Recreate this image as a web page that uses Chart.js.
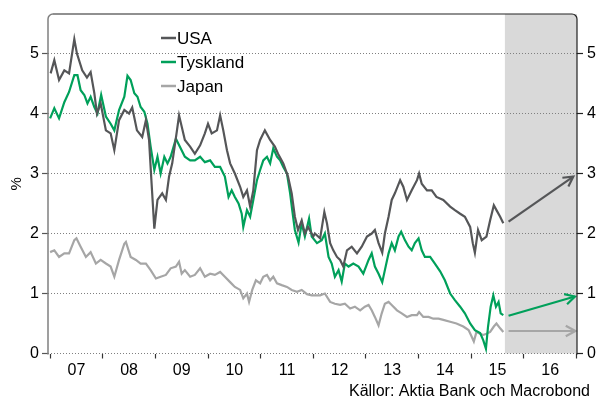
<!DOCTYPE html>
<html>
<head>
<meta charset="utf-8">
<script src="https://cdn.jsdelivr.net/npm/chart.js@4"></script>
<style>
html, body { margin: 0; padding: 0; background: #fff; }
</style>
</head>
<body>
<canvas id="rates" width="597" height="403"></canvas>
<script>
// 10-year government bond yields, %, decimal years
const usaDates = [2007.01, 2007.08, 2007.17, 2007.27, 2007.36, 2007.46, 2007.51, 2007.61, 2007.70, 2007.77, 2007.84, 2007.89, 2007.96,
  2008.06, 2008.15, 2008.22, 2008.31, 2008.41, 2008.50, 2008.56, 2008.65, 2008.75, 2008.82, 2008.88, 2008.92, 2008.98,
  2009.04, 2009.13, 2009.20, 2009.26, 2009.32, 2009.41, 2009.45, 2009.56, 2009.66, 2009.75, 2009.85, 2009.94,
  2010.00, 2010.07, 2010.17, 2010.23, 2010.29, 2010.36, 2010.42, 2010.51, 2010.61, 2010.67, 2010.74, 2010.80, 2010.86, 2010.93, 2010.99,
  2011.08, 2011.18, 2011.27, 2011.33, 2011.43, 2011.52, 2011.59, 2011.65, 2011.71, 2011.78, 2011.84, 2011.90,
  2012.00, 2012.03, 2012.13, 2012.21, 2012.26, 2012.32, 2012.38, 2012.45, 2012.51, 2012.57, 2012.64, 2012.73, 2012.83, 2012.92,
  2013.02, 2013.11, 2013.17, 2013.24, 2013.31, 2013.36, 2013.43, 2013.49, 2013.55, 2013.65, 2013.71, 2013.78, 2013.87, 2013.97,
  2014.01, 2014.06, 2014.16, 2014.25, 2014.34, 2014.47, 2014.60, 2014.69, 2014.79, 2014.88, 2014.98,
  2015.03, 2015.07, 2015.13, 2015.20, 2015.29, 2015.36, 2015.43, 2015.48, 2015.55, 2015.61];
const usaYield = [4.67, 4.89, 4.56, 4.72, 4.67, 5.24, 5.0, 4.72, 4.6, 4.69, 4.34, 4.0, 4.17,
  3.72, 3.67, 3.39, 3.89, 4.06, 4.0, 4.1, 3.72, 3.61, 3.89, 3.56, 2.95, 2.08,
  2.56, 2.67, 2.56, 2.95, 3.17, 3.72, 3.97, 3.56, 3.45, 3.33, 3.47, 3.67,
  3.83, 3.67, 3.72, 3.97, 3.72, 3.39, 3.17, 3.0, 2.78, 2.61, 2.72, 2.45, 2.72, 3.39, 3.56,
  3.72, 3.56, 3.45, 3.33, 3.17, 2.95, 2.67, 2.28, 2.06, 2.22, 2.0, 2.11,
  1.95, 2.0, 1.92, 2.36, 2.17, 1.84, 1.72, 1.61, 1.56, 1.45, 1.72, 1.78, 1.67, 1.78,
  1.95, 2.0, 2.06, 1.84, 1.68, 2.0, 2.28, 2.56, 2.67, 2.89, 2.78, 2.56, 2.72, 2.89,
  3.0, 2.83, 2.72, 2.72, 2.61, 2.56, 2.45, 2.39, 2.33, 2.28, 2.11,
  1.84, 1.68, 2.06, 1.89, 1.95, 2.22, 2.47, 2.39, 2.28, 2.17];

const deDates = [2007.00, 2007.08, 2007.17, 2007.27, 2007.36, 2007.46, 2007.52, 2007.58, 2007.65, 2007.71, 2007.77, 2007.84, 2007.90, 2007.97,
  2008.06, 2008.15, 2008.22, 2008.31, 2008.41, 2008.47, 2008.53, 2008.60, 2008.66, 2008.72, 2008.79, 2008.85, 2008.91, 2008.98,
  2009.04, 2009.10, 2009.17, 2009.23, 2009.29, 2009.39, 2009.48, 2009.56, 2009.66, 2009.75, 2009.85, 2009.94,
  2010.04, 2010.13, 2010.23, 2010.32, 2010.39, 2010.45, 2010.51, 2010.58, 2010.64, 2010.67, 2010.74, 2010.80, 2010.86, 2010.93, 2010.99,
  2011.05, 2011.12, 2011.18, 2011.24, 2011.31, 2011.37, 2011.43, 2011.50, 2011.56, 2011.60, 2011.65, 2011.72, 2011.78, 2011.84, 2011.92, 2011.97,
  2012.07, 2012.16, 2012.22, 2012.29, 2012.35, 2012.41, 2012.48, 2012.54, 2012.60, 2012.67, 2012.76, 2012.86, 2012.95,
  2013.05, 2013.11, 2013.17, 2013.24, 2013.31, 2013.36, 2013.43, 2013.49, 2013.55, 2013.62, 2013.67, 2013.74, 2013.81, 2013.87, 2013.93,
  2014.00, 2014.06, 2014.12, 2014.22, 2014.31, 2014.41, 2014.50, 2014.60, 2014.69, 2014.79, 2014.88, 2014.98,
  2015.07, 2015.17, 2015.23, 2015.28, 2015.32, 2015.37, 2015.42, 2015.47, 2015.52, 2015.56, 2015.61];
const deYield = [3.92, 4.09, 3.92, 4.19, 4.36, 4.64, 4.64, 4.39, 4.31, 4.17, 4.28, 4.11, 4.0, 4.31,
  3.95, 3.83, 3.72, 4.06, 4.28, 4.63, 4.56, 4.34, 4.28, 4.11, 4.03, 3.83, 3.45, 3.06,
  3.28, 3.0, 3.28, 3.17, 3.28, 3.58, 3.42, 3.28, 3.22, 3.22, 3.28, 3.19,
  3.22, 3.11, 3.11, 2.95, 2.61, 2.72, 2.61, 2.5, 2.33, 2.11, 2.39, 2.28, 2.56, 2.89, 3.06,
  3.22, 3.28, 3.17, 3.42, 3.28, 3.22, 3.11, 3.0, 2.67, 2.39, 2.06, 1.85, 2.17, 1.95, 2.25, 1.95,
  1.84, 1.89, 2.0, 1.61, 1.5, 1.28, 1.39, 1.2, 1.5, 1.45, 1.5, 1.45, 1.33,
  1.56, 1.67, 1.45, 1.33, 1.19, 1.39, 1.67, 1.84, 1.72, 1.95, 2.03, 1.89, 1.78, 1.72, 1.84,
  1.92, 1.72, 1.61, 1.61, 1.5, 1.37, 1.22, 1.0, 0.89, 0.78, 0.67, 0.5,
  0.39, 0.34, 0.22, 0.08, 0.45, 0.78, 0.97, 0.78, 0.86, 0.67, 0.64];

const jpDates = [2007.00, 2007.08, 2007.17, 2007.27, 2007.36, 2007.46, 2007.50, 2007.58, 2007.68, 2007.77, 2007.87, 2007.96,
  2008.06, 2008.15, 2008.22, 2008.31, 2008.41, 2008.44, 2008.53, 2008.63, 2008.72, 2008.82, 2008.91,
  2009.01, 2009.10, 2009.20, 2009.29, 2009.39, 2009.45, 2009.50, 2009.56, 2009.66, 2009.75, 2009.85, 2009.94,
  2010.04, 2010.13, 2010.23, 2010.32, 2010.42, 2010.51, 2010.61, 2010.67, 2010.74, 2010.78, 2010.84, 2010.91, 2010.99,
  2011.05, 2011.12, 2011.18, 2011.24, 2011.31, 2011.40, 2011.50, 2011.59, 2011.69, 2011.78, 2011.88, 2011.97,
  2012.03, 2012.13, 2012.22, 2012.32, 2012.41, 2012.51, 2012.60, 2012.70, 2012.79, 2012.89, 2012.98,
  2013.05, 2013.11, 2013.17, 2013.24, 2013.30, 2013.36, 2013.43, 2013.49, 2013.59, 2013.68, 2013.78, 2013.87, 2013.97,
  2014.01, 2014.09, 2014.19, 2014.28, 2014.38, 2014.47, 2014.60, 2014.72, 2014.85, 2014.95,
  2015.01, 2015.05, 2015.10, 2015.17, 2015.23, 2015.29, 2015.36, 2015.43, 2015.48, 2015.55, 2015.61];
const jpYield = [1.69, 1.72, 1.61, 1.67, 1.67, 1.89, 1.92, 1.78, 1.61, 1.69, 1.5, 1.56,
  1.5, 1.45, 1.28, 1.56, 1.83, 1.86, 1.61, 1.56, 1.5, 1.5, 1.39,
  1.25, 1.28, 1.31, 1.42, 1.45, 1.53, 1.33, 1.39, 1.28, 1.31, 1.42, 1.28,
  1.33, 1.31, 1.36, 1.28, 1.19, 1.11, 1.06, 0.92, 1.0, 0.86, 1.06, 1.22, 1.17,
  1.28, 1.31, 1.22, 1.28, 1.17, 1.14, 1.11, 1.06, 1.03, 1.06, 0.99, 0.97,
  0.97, 0.97, 1.0, 0.86, 0.83, 0.81, 0.83, 0.75, 0.78, 0.72, 0.78,
  0.81, 0.72, 0.61, 0.47, 0.67, 0.83, 0.86, 0.81, 0.72, 0.67, 0.61, 0.64, 0.64,
  0.69, 0.61, 0.61, 0.58, 0.58, 0.56, 0.53, 0.5, 0.45, 0.39,
  0.28, 0.2, 0.36, 0.33, 0.31, 0.33, 0.36, 0.45, 0.5, 0.42, 0.36];

// forecasts (arrows) to end of 2016
const usaFcDates = [2015.71, 2016.94];
const usaFc = [2.2, 2.95];
const deFcDates = [2015.71, 2016.97];
const deFc = [0.63, 0.95];
const jpFcDates = [2015.71, 2016.98];
const jpFc = [0.375, 0.375];

const forecastStart = 2015.64;
const yearTicks = [2007, 2008, 2009, 2010, 2011, 2012, 2013, 2014, 2015, 2016, 2017];
const yTicks = [0, 1, 2, 3, 4, 5];
const sourceText = 'Källor: Aktia Bank och Macrobond';

const FONT = '"Liberation Sans", Arial, sans-serif';
const usaColor = '#555658';
const deColor = '#00a05a';
const jpColor = '#a6a6a6';

function pts(xs, ys) {
    return xs.map((x, i) => ({ x: x, y: ys[i] }));
}

const shadeAndFrame = {
    id: 'shadeAndFrame',
    beforeDraw(chart) {
        const { ctx, chartArea: a } = chart;
        const sx = chart.scales.x.getPixelForValue(forecastStart);
        ctx.save();
        ctx.fillStyle = '#d9d9d9';
        ctx.fillRect(sx, a.top, a.right - sx, a.bottom - a.top);
        ctx.restore();
    },
    afterDraw(chart) {
        const { ctx, chartArea: a } = chart;
        const r = 5;
        ctx.save();
        // left axis
        ctx.strokeStyle = '#808080';
        ctx.lineWidth = 1.5;
        ctx.beginPath();
        ctx.moveTo(a.left, a.bottom + 1);
        ctx.lineTo(a.left, a.top + r);
        ctx.arcTo(a.left, a.top, a.left + r, a.top, r);
        ctx.stroke();
        // top + right
        ctx.strokeStyle = '#222';
        ctx.lineWidth = 1.2;
        ctx.beginPath();
        ctx.moveTo(a.left + r, a.top);
        ctx.lineTo(a.right - r, a.top);
        ctx.arcTo(a.right, a.top, a.right, a.top + r, r);
        ctx.lineTo(a.right, a.bottom + 1);
        ctx.stroke();
        // source
        ctx.fillStyle = '#000';
        ctx.font = '16px ' + FONT;
        ctx.textAlign = 'right';
        ctx.textBaseline = 'middle';
        ctx.fillText(sourceText, chart.width - 7, 392);
        ctx.restore();
    }
};

const arrowHeads = {
    id: 'arrowHeads',
    afterDatasetsDraw(chart) {
        const ctx = chart.ctx;
        chart.data.datasets.forEach((ds, i) => {
            if (!ds.arrow) return;
            const p = chart.getDatasetMeta(i).data;
            const b = p[p.length - 1], f = p[p.length - 2];
            const ang = Math.atan2(b.y - f.y, b.x - f.x);
            const len = 11, spread = 0.5;
            ctx.save();
            ctx.strokeStyle = ds.borderColor;
            ctx.lineWidth = ds.borderWidth;
            ctx.beginPath();
            ctx.moveTo(b.x - len * Math.cos(ang - spread), b.y - len * Math.sin(ang - spread));
            ctx.lineTo(b.x, b.y);
            ctx.lineTo(b.x - len * Math.cos(ang + spread), b.y - len * Math.sin(ang + spread));
            ctx.stroke();
            ctx.restore();
        });
    }
};

const innerLegend = {
    id: 'innerLegend',
    afterDraw(chart) {
        const { ctx, chartArea: a } = chart;
        const items = chart.data.datasets.filter(d => d.legendRank).sort((p, q) => p.legendRank - q.legendRank);
        ctx.save();
        ctx.font = '17px ' + FONT;
        ctx.textBaseline = 'middle';
        items.forEach((d, i) => {
            const x = a.left + 113;
            const y = a.top + 24 + i * 24;
            ctx.strokeStyle = d.borderColor;
            ctx.lineWidth = 2.5;
            ctx.beginPath();
            ctx.moveTo(x, y);
            ctx.lineTo(x + 15, y);
            ctx.stroke();
            ctx.fillStyle = '#000';
            ctx.fillText(d.label, x + 16, y + 1);
        });
        ctx.restore();
    }
};

function lineSet(label, data, color, extra) {
    return Object.assign({
        label: label,
        data: data,
        borderColor: color,
        borderWidth: 2.2,
        pointRadius: 0,
        tension: 0,
        fill: false
    }, extra || {});
}

new Chart(document.getElementById('rates').getContext('2d'), {
    type: 'line',
    data: {
        datasets: [
            lineSet('USA', pts(usaDates, usaYield), usaColor, { legendRank: 1, order: 1 }),
            lineSet('Tyskland', pts(deDates, deYield), deColor, { legendRank: 2, order: 2 }),
            lineSet('Japan', pts(jpDates, jpYield), jpColor, { legendRank: 3, order: 3 }),
            lineSet('USA prognos', pts(usaFcDates, usaFc), usaColor, { arrow: true }),
            lineSet('Tyskland prognos', pts(deFcDates, deFc), deColor, { arrow: true }),
            lineSet('Japan prognos', pts(jpFcDates, jpFc), jpColor, { arrow: true })
        ]
    },
    options: {
        responsive: false,
        animation: false,
        events: [],
        layout: { padding: { top: 14, right: 0, left: 0, bottom: 23.5 } },
        plugins: {
            legend: { display: false },
            tooltip: { enabled: false }
        },
        scales: {
            x: {
                type: 'linear',
                min: 2006.96,
                max: 2017.01,
                afterBuildTicks: axis => {
                    const t = [];
                    yearTicks.forEach((y, i) => {
                        t.push({ value: y });
                        if (i < yearTicks.length - 1) t.push({ value: y + 0.5 });
                    });
                    axis.ticks = t;
                },
                afterFit: s => { s.height = 26; },
                border: { display: false },
                grid: {
                    drawOnChartArea: false,
                    drawTicks: true,
                    tickLength: 5,
                    tickBorderDash: [],
                    tickWidth: 1.2,
                    tickColor: c => (c.tick && Number.isInteger(c.tick.value)) ? '#333' : 'rgba(0,0,0,0)'
                },
                ticks: {
                    autoSkip: false,
                    maxRotation: 0,
                    padding: 2,
                    color: '#000',
                    font: { family: FONT, size: 16 },
                    callback: v => (v % 1 === 0.5) ? String(Math.floor(v) % 100).padStart(2, '0') : ''
                }
            },
            y: {
                position: 'left',
                min: 0,
                max: 5.66,
                afterBuildTicks: axis => { axis.ticks = yTicks.map(v => ({ value: v })); },
                afterFit: s => { s.width = 48; },
                border: { display: false, dash: [1, 2] },
                grid: {
                    color: '#808080',
                    lineWidth: 1,
                    tickLength: 6,
                    tickBorderDash: [],
                    tickColor: '#555',
                    tickWidth: 1.2
                },
                title: {
                    display: true,
                    text: '%',
                    color: '#000',
                    font: { family: FONT, size: 15 },
                    padding: { top: 8, bottom: 0 }
                },
                ticks: {
                    padding: 3,
                    color: '#000',
                    font: { family: FONT, size: 16 }
                }
            },
            y2: {
                position: 'right',
                min: 0,
                max: 5.66,
                afterBuildTicks: axis => { axis.ticks = yTicks.map(v => ({ value: v })); },
                afterFit: s => { s.width = 20; },
                border: { display: false },
                grid: {
                    drawOnChartArea: false,
                    tickLength: 6,
                    tickBorderDash: [],
                    tickColor: '#222',
                    tickWidth: 1.2
                },
                ticks: {
                    padding: 4,
                    color: '#000',
                    font: { family: FONT, size: 16 }
                }
            }
        }
    },
    plugins: [shadeAndFrame, arrowHeads, innerLegend]
});
</script>
</body>
</html>
